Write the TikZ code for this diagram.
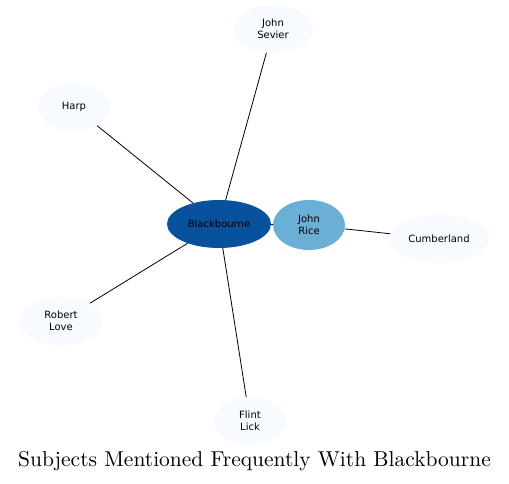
\documentclass[tikz,border=0pt]{standalone}
\usepackage{fontspec}
\usepackage{tikz}
\usetikzlibrary{shapes.geometric}
\newfontfamily\nodefont{DejaVu Sans}
\newfontfamily\titlefont{lmroman10-regular.otf}
\definecolor{pale}{HTML}{F7FBFF}
\definecolor{deep}{HTML}{08519C}
\definecolor{mid}{HTML}{6BAED6}

\begin{document}
\begin{tikzpicture}[x=1pt, y=-1pt,
  subj/.style={ellipse, fill=pale, inner sep=0pt, minimum height=48pt, align=center, font=\nodefont\fontsize{10}{11.6}\selectfont},
  link/.style={black, line width=0.8pt}]
\useasboundingbox (0,0) rectangle (509,483);
\node[subj, fill=deep, minimum width=104pt] (B) at (219,224) {Blackbourne};
\node[subj, fill=mid, minimum width=72pt, minimum height=50pt] (R) at (309,225) {John\\Rice};
\node[subj, minimum width=100pt] (C) at (439,239) {Cumberland};
\node[subj, minimum width=80pt] (S) at (273,29) {John\\Sevier};
\node[subj, minimum width=72pt] (H) at (74,107) {Harp};
\node[subj, minimum width=84pt] (L) at (61,321) {Robert\\Love};
\node[subj, minimum width=72pt] (F) at (250,421) {Flint\\Lick};
\draw[link] (B) -- (S);
\draw[link] (B) -- (H);
\draw[link] (B) -- (L);
\draw[link] (B) -- (F);
\draw[link] (B) -- (R);
\draw[link] (R) -- (C);
\node (T) at (254.5,461) {\titlefont\fontsize{21.5}{26}\selectfont Subjects Mentioned Frequently With Blackbourne};
\end{tikzpicture}
\end{document}
